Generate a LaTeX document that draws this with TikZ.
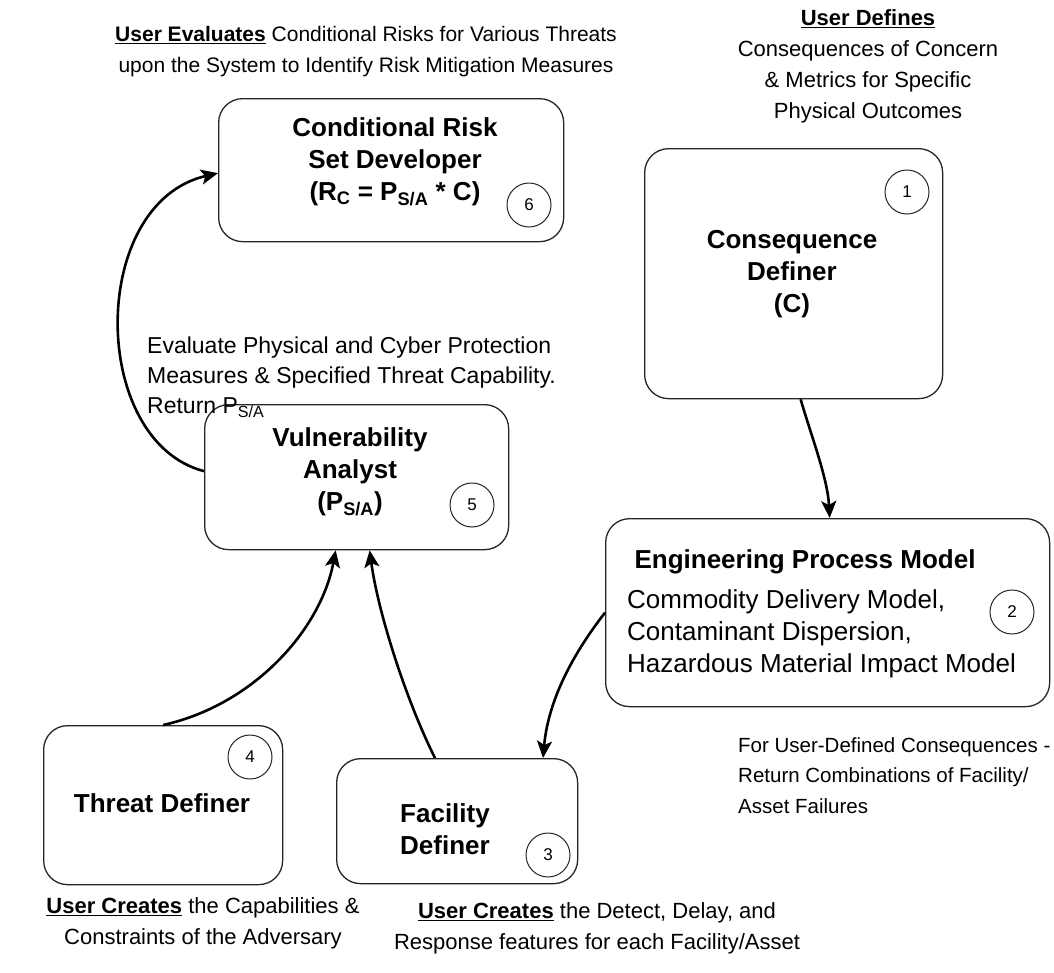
\documentclass[tikz,border=0pt]{standalone}
\usepackage{fontspec}
\setmainfont{Liberation Sans}
\usetikzlibrary{arrows.meta}

\begin{document}
\begin{tikzpicture}[x=1pt,y=-1pt,
  box/.style={draw=black!85, line width=1.3pt, rounded corners=24pt, inner sep=0pt, anchor=north west},
  num/.style={draw=black!85, circle, line width=1pt, minimum size=44pt, inner sep=0pt, font=\fontsize{17}{17}\selectfont},
  title/.style={font=\fontsize{26}{32}\selectfont\bfseries, align=center, inner sep=0pt},
  body/.style={font=\fontsize{26}{32}\selectfont, align=left, inner sep=0pt},
  note/.style={font=\fontsize{22}{31}\selectfont, align=center, inner sep=0pt},
  flow/.style={line width=2.6pt, -{Stealth[length=17pt,width=15pt,inset=4pt]}}]

\useasboundingbox (0,0) rectangle (1054,972);

% boxes
\node[box, minimum width=345pt, minimum height=143pt] (crs) at (218,98) {};
\node[box, minimum width=298pt, minimum height=250pt] (cons) at (644,148) {};
\node[box, minimum width=304pt, minimum height=145pt] (vul) at (204,404) {};
\node[box, minimum width=444pt, minimum height=188pt] (epm) at (605,518) {};
\node[box, minimum width=239pt, minimum height=159pt] (thr) at (43,725) {};
\node[box, minimum width=241pt, minimum height=125pt] (fac) at (336,758) {};

% step numbers
\node[num] (n6) at (529,205) {6};
\node[num] (n1) at (907,192) {1};
\node[num] (n5) at (472,505) {5};
\node[num] (n2) at (1012,612) {2};
\node[num] (n4) at (250,757) {4};
\node[num] (n3) at (548,855) {3};

% box contents
\node[title] (crs-t) at (395,162) {Conditional Risk\\Set Developer\\(R\textsubscript{C} = P\textsubscript{S/A} * C)};
\node[title] (cons-t) at (792,274) {Consequence\\Definer\\(C)};
\node[title] (vul-t) at (350,472) {Vulnerability\\Analyst\\(P\textsubscript{S/A})};
\node[title] (epm-t) at (805,562) {Engineering Process Model};
\node[body, anchor=north west] (epm-b) at (627,589) {Commodity Delivery Model,\\Contaminant Dispersion,\\Hazardous Material Impact Model};
\node[title] (thr-t) at (162,803) {Threat Definer};
\node[title] (fac-t) at (445,829) {Facility\\Definer};

% annotations
\node[note, font=\fontsize{21}{31}\selectfont] (ev) at (366,52) {\underline{\textbf{User Evaluates}} Conditional Risks for Various Threats\\upon the System to Identify Risk Mitigation Measures};
\node[note] (def) at (868,66) {\underline{\textbf{User Defines}}\\Consequences of Concern\\\& Metrics for Specific\\Physical Outcomes};
\node[note, font=\fontsize{23}{30}\selectfont, align=left, anchor=north west] (pr) at (147,337) {Evaluate Physical and Cyber Protection\\Measures \& Specified Threat Capability.\\Return P\textsubscript{S/A}};
\node[note, font=\fontsize{20.5}{30.5}\selectfont, align=left, anchor=north west] (fail) at (738,737) {For User-Defined Consequences -\\Return Combinations of Facility/\\Asset Failures};
\node[note] (adv) at (203,923) {\underline{\textbf{User Creates}} the Capabilities \&\\Constraints of the Adversary};
\node[note] (ddr) at (597,928) {\underline{\textbf{User Creates}} the Detect, Delay, and\\Response features for each Facility/Asset};

% connectors
\draw[flow] ([yshift=6pt]vul.west) .. controls +(-115,-30) and +(-130,30) .. ([yshift=-3pt]crs.west);
\draw[flow] ([xshift=7pt]cons.south) .. controls +(10,35) and +(-2,-40) .. ([xshift=2pt]epm.north);
\draw[flow] (epm.west) .. controls +(-35,45) and +(5,-55) .. ([xshift=207pt]fac.north west);
\draw[flow] ([xshift=99pt]fac.north west) .. controls +(-30,-60) and +(8,60) .. ([xshift=13pt]vul.south);
\draw[flow] (thr.north) .. controls +(90,-20) and +(-15,80) .. ([xshift=-21pt]vul.south);
\end{tikzpicture}
\end{document}
